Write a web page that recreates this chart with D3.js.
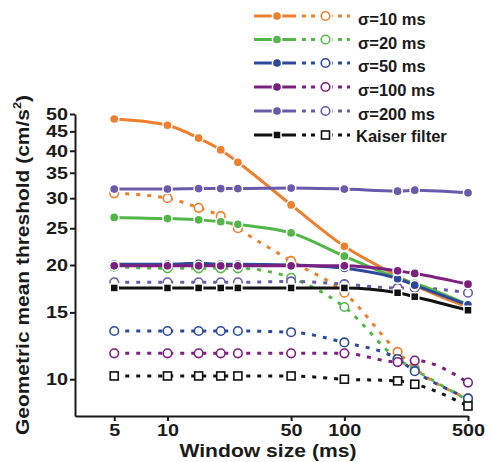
<!DOCTYPE html>
<html>
<head>
<meta charset="utf-8">
<script src="https://cdn.jsdelivr.net/npm/d3@7"></script>
<style>
  body { margin: 0; background: #fff; }
  text { font-family: Arial, "Liberation Sans", sans-serif; font-weight: bold; fill: #1a1a1a; }
</style>
</head>
<body>
<div id="chart"></div>
<script>
// window sizes (ms)
const windows = [5, 10, 15, 20, 25, 50, 100, 200, 250, 500];
const xTicks = [5, 10, 50, 100, 500];
const yTicks = [10, 15, 20, 25, 30, 35, 40, 45, 50];

// filled markers / solid lines
const s10Solid = [48.5, 46.7, 43.2, 40.2, 37.3, 28.8, 22.4, 18.7, 17.7, 15.5];
const s20Solid = [26.7, 26.5, 26.3, 26.0, 25.6, 24.3, 21.1, 18.5, 17.9, 15.7];
const s50Solid = [20.1, 20.1, 20.2, 20.1, 20.1, 20.0, 19.6, 18.4, 17.7, 15.7];
const s100Solid = [19.9, 19.9, 19.9, 19.9, 19.9, 19.9, 19.9, 19.3, 19.0, 17.8];
const s200Solid = [31.7, 31.7, 31.8, 31.8, 31.8, 31.9, 31.7, 31.3, 31.5, 31.0];
const kaiserSolid = [17.4, 17.4, 17.4, 17.4, 17.4, 17.4, 17.4, 16.9, 16.5, 15.2];

// open markers / dotted lines
const s10Dot = [30.9, 30.0, 28.3, 26.9, 25.0, 20.5, 16.9, 11.8, 10.7, 8.9];
const s20Dot = [19.8, 19.6, 19.6, 19.6, 19.6, 18.5, 15.5, 11.3, 10.6, 8.8];
const s50Dot = [13.4, 13.4, 13.4, 13.4, 13.4, 13.3, 12.5, 11.3, 10.5, 8.9];
const s100Dot = [11.7, 11.7, 11.7, 11.7, 11.7, 11.7, 11.7, 11.1, 11.2, 9.8];
const s200Dot = [18.0, 18.0, 18.0, 18.0, 18.0, 18.1, 17.8, 17.4, 17.4, 16.9];
const kaiserDot = [10.2, 10.2, 10.2, 10.2, 10.2, 10.2, 10.0, 9.9, 9.7, 8.5];

const seriesNames = ["σ=10 ms", "σ=20 ms", "σ=50 ms", "σ=100 ms", "σ=200 ms", "Kaiser filter"];
const seriesColors = ["#ee7f2d", "#52b748", "#2c4a9c", "#7d1f80", "#6a5aab", "#111111"];
const solidData = [s10Solid, s20Solid, s50Solid, s100Solid, s200Solid, kaiserSolid];
const dotData = [s10Dot, s20Dot, s50Dot, s100Dot, s200Dot, kaiserDot];

const W = 493, H = 462;
const svg = d3.select("#chart").append("svg").attr("width", W).attr("height", H);

const x = d3.scaleLog().domain([3, 500]).range([75, 468]);
const y = d3.scaleLog().domain([8, 50]).range([416, 114]);

// axes
const yAxis = svg.append("g").attr("transform", "translate(75,0)")
  .call(d3.axisLeft(y).tickValues(yTicks).tickFormat(d3.format("d")).tickSize(5).tickSizeOuter(0).tickPadding(2));
const xAxis = svg.append("g").attr("transform", "translate(0,416)")
  .call(d3.axisBottom(x).tickValues(xTicks).tickFormat(d3.format("d")).tickSize(5).tickSizeOuter(0).tickPadding(3));
[yAxis, xAxis].forEach(a => {
  a.selectAll("path, line").attr("stroke", "#1a1a1a").attr("stroke-width", 2);
  a.selectAll("text").attr("font-size", 16.5).style("font-family", "Arial, 'Liberation Sans', sans-serif")
    .attr("font-weight", "bold").attr("fill", "#1a1a1a")
    .attr("textLength", function(d) { return String(d).length * 11; })
    .attr("lengthAdjust", "spacingAndGlyphs");
});

// axis titles
svg.append("text")
  .attr("x", 268).attr("y", 457).attr("text-anchor", "middle")
  .attr("font-size", 18).attr("textLength", 177).attr("lengthAdjust", "spacingAndGlyphs")
  .text("Window size (ms)");

const yl = svg.append("text")
  .attr("transform", "translate(29,265) rotate(-90)")
  .attr("text-anchor", "middle").attr("font-size", 18)
  .attr("textLength", 340).attr("lengthAdjust", "spacingAndGlyphs");
yl.append("tspan").text("Geometric mean threshold (cm/s");
yl.append("tspan").attr("font-size", 11).attr("dy", -8).text("2");
yl.append("tspan").attr("dy", 8).text(")");

const line = d3.line().x((d, i) => x(windows[i])).y(d => y(d)).curve(d3.curveMonotoneX);
const plot = svg.append("g");

function drawMarker(g, cx, cy, k, filled) {
  const c = seriesColors[k];
  if (k === 5) {
    g.append("rect").attr("x", cx - 4).attr("y", cy - 4).attr("width", 8).attr("height", 8)
      .attr("fill", filled ? c : "#fff").attr("stroke", filled ? "#fff" : c)
      .attr("stroke-width", filled ? 1.5 : 1.6);
  } else {
    g.append("circle").attr("cx", cx).attr("cy", cy).attr("r", filled ? 4.6 : 4.3)
      .attr("fill", filled ? c : "#fff").attr("stroke", filled ? "#fff" : c)
      .attr("stroke-width", filled ? 1.5 : 1.6);
  }
}

// dotted series first, then solid
dotData.forEach((vals, k) => {
  plot.append("path").attr("d", line(vals)).attr("fill", "none")
    .attr("stroke", seriesColors[k]).attr("stroke-width", 3).attr("stroke-dasharray", "4,7");
});
dotData.forEach((vals, k) => {
  vals.forEach((v, i) => drawMarker(plot, x(windows[i]), y(v), k, false));
});
solidData.forEach((vals, k) => {
  plot.append("path").attr("d", line(vals)).attr("fill", "none")
    .attr("stroke", seriesColors[k]).attr("stroke-width", 3);
  vals.forEach((v, i) => drawMarker(plot, x(windows[i]), y(v), k, true));
});

// legend
const legY = [16, 39.5, 63, 87, 111, 135];
const leg = svg.append("g");
seriesNames.forEach((name, k) => {
  const ly = legY[k];
  leg.append("line").attr("x1", 254).attr("x2", 296).attr("y1", ly).attr("y2", ly)
    .attr("stroke", seriesColors[k]).attr("stroke-width", 3);
  drawMarker(leg, 277, ly, k, true);
  leg.append("line").attr("x1", 302).attr("x2", 350).attr("y1", ly).attr("y2", ly)
    .attr("stroke", seriesColors[k]).attr("stroke-width", 3).attr("stroke-dasharray", "4,5");
  leg.append("circle").attr("cx", 325.5).attr("cy", ly).attr("r", 7).attr("fill", "#fff");
  drawMarker(leg, 325.5, ly, k, false);
  leg.append("text").attr("x", k === 5 ? 356 : 358).attr("y", ly + (k === 5 ? 6.5 : 9))
    .attr("font-size", 16.5).text(name);
});
</script>
</body>
</html>
